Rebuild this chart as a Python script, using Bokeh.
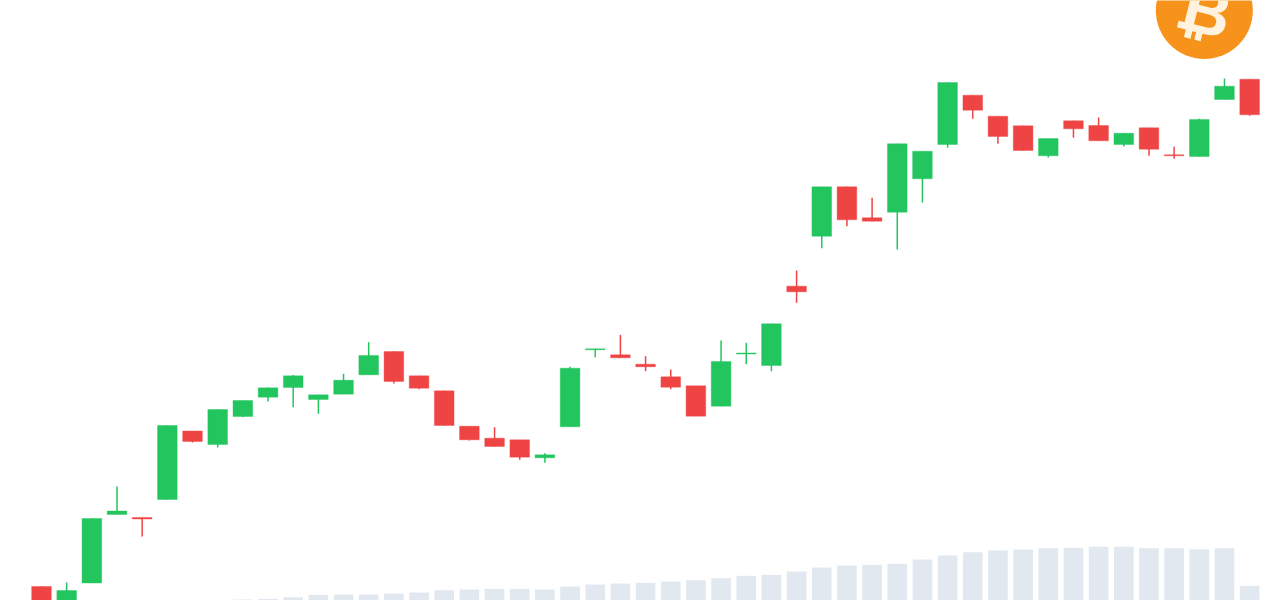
from bokeh.plotting import figure
from bokeh.models import Range1d
from bokeh.core.properties import value
from bokeh.embed import file_html
from bokeh.resources import INLINE
import math

index = list(range(49))
opens = [14, -5, 17.5, 86, 83, 101, 169.5, 156, 184, 203.3, 213, 201, 206.3, 225.7, 249, 224.7, 209.7, 174.3, 162.3, 160.7, 142.7, 173.7, 250.7, 245.7, 236.3, 223.7, 214.7, 194.3, 246.5, 235, 314.3, 364.3, 413.7, 382.7, 388.3, 421.7, 456, 505.3, 484.3, 474.7, 444.7, 479.7, 475, 456, 472.7, 445.7, 444, 501, 521.3]
closes = [-10, 10, 82, 89.5, 81.5, 175, 159, 191, 200, 212.7, 224.7, 205.7, 220.3, 245, 219, 212.3, 175, 160.7, 154, 143.3, 145.7, 232.3, 251.7, 242.7, 233.7, 213.3, 184.3, 239, 247.5, 276.7, 308.7, 413.7, 380.7, 379.3, 456.7, 449.3, 518, 490.3, 464, 450, 462, 471.7, 459.7, 467.3, 451.3, 444.7, 481, 514.3, 485.7]
highs = [14, 18, 82, 114, 83, 175, 169.5, 191, 200, 212.7, 225.5, 205.7, 226.7, 258.3, 249, 224.7, 209.7, 174.3, 173.3, 160.7, 147.3, 233.7, 251.7, 265.7, 244.3, 231, 214.7, 260, 257.7, 276.7, 330, 413.7, 413.7, 402.7, 456.7, 449.3, 518, 505.3, 484.3, 474.7, 462, 479.7, 483, 467.3, 472.7, 453.7, 481.7, 522, 521.3]
lows = [-10, -5, 17.5, 86, 64, 101, 158, 153, 183.5, 199, 193.3, 186.7, 206.3, 225.7, 217, 211.3, 175, 160, 154, 140.7, 137.7, 173.7, 243.3, 242.7, 229.3, 211.3, 184.3, 194.3, 236.3, 229.3, 297.7, 352.3, 374.3, 379.3, 351, 398, 452.7, 481.7, 456.7, 450, 443, 462.7, 459.7, 454, 444.7, 441.7, 444, 501, 484.7]
volumes = [0, 0, 0, 0, 0, 0, 0, 0, 1, 1.7, 3.3, 5.7, 6, 6, 7, 8, 10.3, 11, 11.7, 11.7, 11, 14, 16, 17, 17.7, 19, 20.3, 22.3, 24.7, 25.7, 29, 33, 35, 35.7, 36.7, 41, 45, 48.3, 50, 51, 52.3, 52.7, 53.7, 53.7, 52.3, 52.3, 51.3, 52.3, 14.7]
logo_symbol = ["\u20bf"]
logo_x = [46.2]
logo_y = [590]
logo_text_y = [590]

GREEN = "#22c55e"
RED = "#ef4444"
VOLUME = "#e2e8f0"
LOGO = "#f7931a"

p = figure(width=1280, height=600, output_backend="svg", toolbar_location=None,
           x_range=Range1d(-1.629, 49.226), y_range=Range1d(0, 600),
           min_border=0, outline_line_color=None, background_fill_color="white",
           border_fill_color="white")
p.axis.visible = False
p.grid.visible = False
p.styles = {"position": "fixed", "left": "0px", "top": "0px"}

p.vbar(x=index, bottom=0, top=volumes, width=0.78, color=VOLUME, line_color=None)

colors = [GREEN if c >= o else RED for o, c in zip(opens, closes)]
p.segment(x0=index, x1=index, y0=lows, y1=highs, color=colors, line_width=1.5)
p.vbar(x=index, bottom=opens, top=closes, width=0.78, fill_color=colors, line_color=colors, line_width=0.4)

p.scatter(x=logo_x, y=logo_y, size=97, color=LOGO, line_color=None)
p.text(x=logo_x, y=logo_text_y, text=logo_symbol, text_color="#fff3e0",
       text_font=value("Liberation Sans"), text_font_style="bold", text_font_size="66px",
       text_align="center", text_baseline="middle", angle=-14 * math.pi / 180)

open("out.html", "w").write(file_html(p, INLINE))
